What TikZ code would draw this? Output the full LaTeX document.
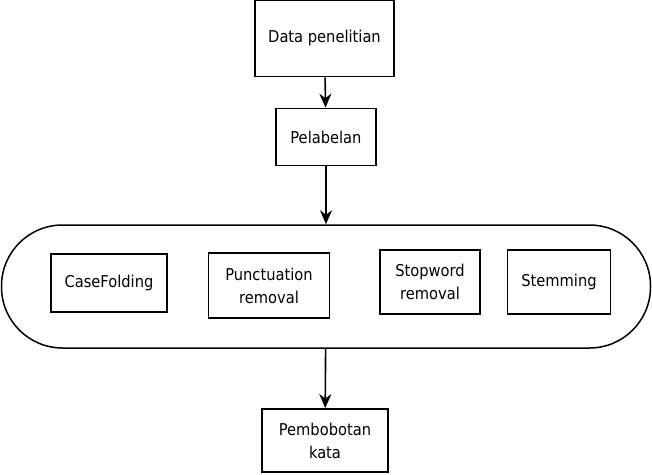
\documentclass[tikz,border=0pt]{standalone}
\usepackage{fontspec}
\setmainfont{DejaVu Sans Condensed}
\usepackage{tikz}
\usetikzlibrary{arrows,arrows.meta,shapes,positioning}
\tikzset{>={Stealth[length=14pt, width=12pt]}}
\tikzset{box/.style={draw, line width=1.8pt, inner sep=0pt, align=center,
  font=\fontsize{16.3}{23}\selectfont}}

\begin{document}
\begin{tikzpicture}[x=1pt, y=-1pt]
          \useasboundingbox (0, 0) rectangle (652, 474);
          \node [box, minimum width=139pt, minimum height=76pt] (data) at (324.5, 38.5) {Data penelitian};
          \node [box, minimum width=100pt, minimum height=57pt] (label) at (326, 137) {Pelabelan};
          %\draw (1, 225) rectangle (651, 348);
          \node [draw, line width=1.5pt, minimum width=649pt, minimum height=123pt, rounded corners=61pt] (pre) at (326, 286.5) {};
          \node [box, minimum width=116pt, minimum height=58pt] (case) at (109, 283) {CaseFolding};
          \node [box, minimum width=121pt, minimum height=65pt] (punct) at (269, 285.5) {Punctuation\\removal};
          \node [box, minimum width=100pt, minimum height=64pt] (stop) at (430, 282) {Stopword\\removal};
          \node [box, minimum width=103pt, minimum height=64pt] (stem) at (559, 282) {Stemming};
          \node [box, minimum width=126pt, minimum height=63pt] (bobot) at (325, 440.5) {Pembobotan\\kata};
          \draw [->, line width=1.6pt] (data) -- (label);
          \draw [->, line width=1.6pt] (label) -- (pre);
          \draw [->, line width=1.6pt] (pre) -- (bobot);
        \end{tikzpicture}
\end{document}
